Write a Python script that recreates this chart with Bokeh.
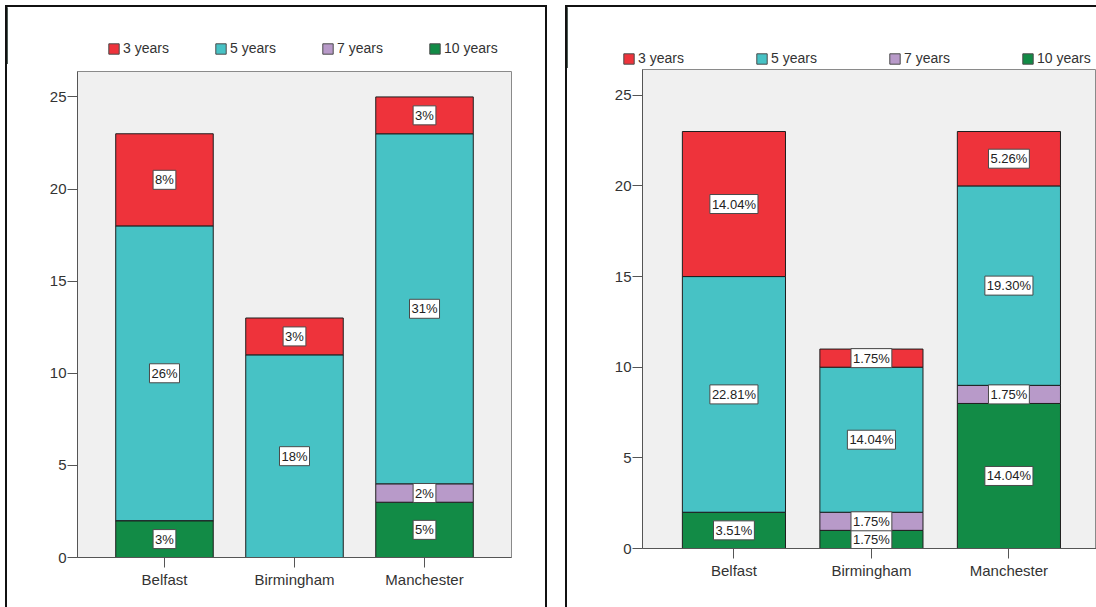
from bokeh.plotting import figure
from bokeh.layouts import row, column
from bokeh.models import Range1d, FixedTicker, Legend, LegendItem, ColumnDataSource
from bokeh.embed import file_html
from bokeh.resources import INLINE
from bokeh.core.properties import value

cities = ["Belfast", "Birmingham", "Manchester"]
series = ["3 years", "5 years", "7 years", "10 years"]
colors = ["#EE333B", "#47C2C5", "#B89AC9", "#128B46"]
y_ticks = [0, 5, 10, 15, 20, 25]

# Left chart (counts per city, stacked bottom->top: 10, 7, 5, 3 years)
left_3 = [5, 2, 2]
left_5 = [16, 11, 19]
left_7 = [0, 0, 1]
left_10 = [2, 0, 3]
left_pct_3 = ["8%", "3%", "3%"]
left_pct_5 = ["26%", "18%", "31%"]
left_pct_7 = ["", "", "2%"]
left_pct_10 = ["3%", "", "5%"]

# Right chart
right_3 = [8, 1, 3]
right_5 = [13, 8, 11]
right_7 = [0, 1, 1]
right_10 = [2, 1, 8]
right_pct_3 = ["14.04%", "1.75%", "5.26%"]
right_pct_5 = ["22.81%", "14.04%", "19.30%"]
right_pct_7 = ["", "1.75%", "1.75%"]
right_pct_10 = ["3.51%", "1.75%", "14.04%"]

FONT_NAME = "Liberation Sans"
FONT = value(FONT_NAME)
BORDER = "2px solid #111111"


def make_legend_fig(width, height, leg_loc, label_width):
    lf = figure(width=width, height=height, output_backend="svg",
                toolbar_location=None, x_axis_location=None,
                y_axis_location=None, x_range=Range1d(0, 1),
                y_range=Range1d(0, 1), min_border=0)
    lf.frame_align = False
    lf.grid.visible = False
    lf.outline_line_color = None
    lf.background_fill_color = "white"
    lf.border_fill_color = "white"
    items = []
    for name, c in zip(series, colors):
        # off-range proxy bar, only used for the legend swatch
        r = lf.vbar(x=[-10], top=[1], width=0.5, fill_color=c,
                    line_color="#4A4A4A", line_width=1)
        items.append(LegendItem(label=name, renderers=[r]))
    leg = Legend(items=items, orientation="horizontal", location=leg_loc,
                 glyph_width=13, glyph_height=13, label_standoff=3,
                 label_width=label_width, label_height=16, spacing=12,
                 padding=0, margin=0, border_line_alpha=0,
                 background_fill_alpha=0,
                 label_text_font=FONT_NAME, label_text_font_size="14px",
                 label_text_color="#333333")
    lf.add_layout(leg)
    return lf


def make_chart(counts, pcts, width, height, mbl, mbt, mbr, mbb,
               x_start, x_end, y_end):
    p = figure(width=width, height=height,
               x_range=Range1d(x_start, x_end), y_range=Range1d(0, y_end),
               output_backend="svg", toolbar_location=None,
               min_border_left=mbl, min_border_top=mbt,
               min_border_right=mbr, min_border_bottom=mbb)
    p.frame_align = False
    p.background_fill_color = "#F0F0F0"
    p.border_fill_color = "white"
    p.outline_line_color = "#8A8A8A"
    p.outline_line_width = 1
    p.grid.visible = False

    xs = list(range(1, len(cities) + 1))
    order = [3, 2, 1, 0]  # stack order: 10, 7, 5, 3 years
    bottoms = [0] * len(cities)
    label_x, label_y, label_t = [], [], []
    for si in order:
        vals = counts[si]
        tops = [b + v for b, v in zip(bottoms, vals)]
        src = ColumnDataSource(dict(x=xs, bottom=bottoms, top=tops))
        p.vbar(x="x", bottom="bottom", top="top", width=0.75, source=src,
               fill_color=colors[si], line_color="#1E1E1E", line_width=1)
        for i in range(len(cities)):
            if pcts[si][i]:
                label_x.append(xs[i])
                label_y.append((bottoms[i] + tops[i]) / 2)
                label_t.append(pcts[si][i])
        bottoms = tops

    lsrc = ColumnDataSource(dict(x=label_x, y=label_y, t=label_t))
    p.text(x="x", y="y", text="t", source=lsrc, text_align="center",
           text_baseline="middle", text_font=FONT, text_font_size="13px",
           text_color="#222222", background_fill_color="white",
           border_line_color="#4A4A4A", border_line_width=1, padding=2)

    p.xaxis.ticker = FixedTicker(ticks=xs)
    p.xaxis.major_label_overrides = {x: c for x, c in zip(xs, cities)}
    p.yaxis.ticker = FixedTicker(ticks=y_ticks)
    for ax in (p.xaxis[0], p.yaxis[0]):
        ax.axis_line_color = "#555555"
        ax.major_tick_line_color = "#555555"
        ax.major_tick_out = 10
        ax.major_tick_in = 0
        ax.minor_tick_out = 0
        ax.minor_tick_in = 0
        ax.major_label_text_font = FONT_NAME
        ax.major_label_text_font_size = "15px"
        ax.major_label_text_color = "#333333"
    p.xaxis.major_label_standoff = 3
    p.yaxis.major_label_standoff = 1
    return p


# Left panel
leg1 = make_legend_fig(538, 57, (100, 8), 79)
p1 = make_chart([left_3, left_5, left_7, left_10],
                [left_pct_3, left_pct_5, left_pct_7, left_pct_10],
                538, 543, 70, 7, 34, 50,
                0.331, 3.669, 26.38)

# Right panel
leg2 = make_legend_fig(529, 61, (55, 2), 105)
p2 = make_chart([right_3, right_5, right_7, right_10],
                [right_pct_3, right_pct_5, right_pct_7, right_pct_10],
                529, 539, 75, 1, 0, 59,
                0.335, 3.637, 26.42)

col1 = column(leg1, p1, spacing=0, margin=(5, 0, 0, 5),
              styles={"border-left": BORDER, "border-right": BORDER,
                      "border-top": BORDER})
col2 = column(leg2, p2, spacing=0, margin=(5, 0, 0, 18),
              styles={"border-left": BORDER, "border-top": BORDER})
layout = row(col1, col2)
open("out.html", "w").write(file_html(layout, INLINE))
